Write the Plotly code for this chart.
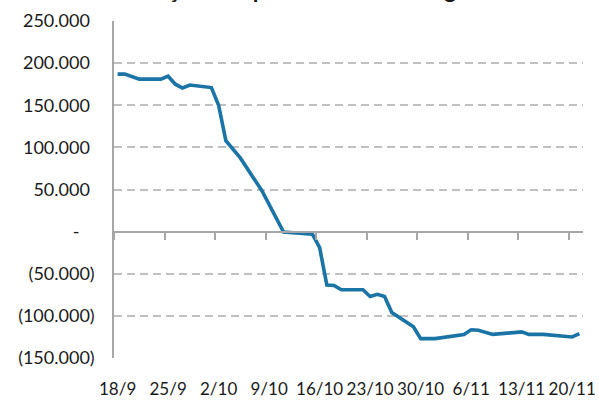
import plotly.graph_objects as go

# Data
dates = [
    "2017-09-18", "2017-09-19", "2017-09-21", "2017-09-24", "2017-09-25",
    "2017-09-26", "2017-09-27", "2017-09-28", "2017-10-01", "2017-10-02",
    "2017-10-03", "2017-10-05", "2017-10-08", "2017-10-11", "2017-10-15",
    "2017-10-16", "2017-10-17", "2017-10-18", "2017-10-19", "2017-10-22",
    "2017-10-23", "2017-10-24", "2017-10-25", "2017-10-26", "2017-10-29",
    "2017-10-30", "2017-11-01", "2017-11-05", "2017-11-06", "2017-11-07",
    "2017-11-09", "2017-11-13", "2017-11-14", "2017-11-16", "2017-11-20",
    "2017-11-21",
]
values = [
    187000, 187000, 181000, 181000, 184500,
    175000, 170500, 174000, 171000, 150000,
    108000, 87500, 48500, -500, -3000,
    -19000, -63500, -64000, -69000, -69000,
    -77000, -74500, -77000, -96000, -113000,
    -127000, -127000, -122000, -116500, -117000,
    -122000, -119000, -122000, -122000, -125000,
    -121000,
]

x_tick_dates = ["2017-09-18", "2017-09-25", "2017-10-02", "2017-10-09", "2017-10-16",
                "2017-10-23", "2017-10-30", "2017-11-06", "2017-11-13", "2017-11-20"]
x_tick_labels = ["18/9", "25/9", "2/10", "9/10", "16/10", "23/10", "30/10", "6/11", "13/11", "20/11"]
x_boundary_ticks = ["2017-09-17 12:00", "2017-09-24 12:00", "2017-10-01 12:00", "2017-10-08 12:00",
                    "2017-10-15 12:00", "2017-10-22 12:00", "2017-10-29 12:00", "2017-11-05 12:00",
                    "2017-11-12 12:00", "2017-11-19 12:00"]

y_tick_vals = [250000, 200000, 150000, 100000, 50000, 0, -50000, -100000, -150000]
hid = '<span style="color:rgba(0,0,0,0)">%s</span>'
y_tick_text = [
    "250.000" + hid % ")", "200.000" + hid % ")", "150.000" + hid % ")",
    "100.000" + hid % ")", "50.000" + hid % ")", "-" + hid % "0)",
    "(50.000)", "(100.000)", "(150.000)",
]

title_text = "Posição compradora dos estrangeiros"

x_range = ["2017-09-17 12:00", "2017-11-21 12:00"]
y_min, y_max = -150000, 250000

FONT = "Lato, 'Open Sans', sans-serif"
AXIS_GRAY = "#a6a6a6"

fig = go.Figure()
fig.add_trace(go.Scatter(
    x=dates, y=values, mode="lines",
    line=dict(color="#1a74a6", width=3.6),
    hoverinfo="skip", showlegend=False,
))
# invisible trace to activate xaxis2 (tick marks at zero)
fig.add_trace(go.Scatter(x=[dates[0]], y=[0], xaxis="x2", mode="markers",
                         marker=dict(opacity=0), hoverinfo="skip", showlegend=False))

fig.update_layout(
    width=599, height=401,
    margin=dict(l=114, r=16, t=21, b=43, autoexpand=False),
    paper_bgcolor="white", plot_bgcolor="white",
    font=dict(family=FONT, size=18, color="#1a1a1a"),
    showlegend=False,
    xaxis=dict(
        type="date", range=x_range,
        tickvals=x_tick_dates, ticktext=x_tick_labels,
        ticks="", showgrid=False, showline=False, zeroline=False,
        tickangle=0, automargin=False,
        ticklabelstandoff=19,
        tickfont=dict(family=FONT, size=17, color="#1a1a1a"),
    ),
    xaxis2=dict(
        type="date", range=x_range, overlaying="x", anchor="free",
        position=(0 - y_min) / (y_max - y_min),
        tickvals=x_boundary_ticks, showticklabels=False,
        ticks="outside", ticklen=8, tickwidth=1.5, tickcolor=AXIS_GRAY,
        showline=True, linecolor=AXIS_GRAY, linewidth=1.5,
        showgrid=False, zeroline=False, automargin=False,
    ),
    yaxis=dict(
        range=[y_min, y_max],
        tickvals=y_tick_vals, ticktext=y_tick_text,
        showgrid=True, gridcolor="#c0c0c0", gridwidth=1.5, griddash="8px,5px",
        showline=True, linecolor=AXIS_GRAY, linewidth=1.5,
        zeroline=False, ticks="", automargin=False,
        ticklabelstandoff=14,
        tickfont=dict(family=FONT, size=18, color="#1a1a1a"),
    ),
    annotations=[dict(
        text="<b>" + title_text + "</b>",
        xref="paper", yref="paper", x=0.43, y=1.0 + 16 / 337,
        xanchor="center", yanchor="bottom", showarrow=False,
        font=dict(family=FONT, size=23, color="#1a1a1a"),
    )],
)

fig.write_html("out.html", config={"displayModeBar": False},
               post_script="document.body.style.margin='0';")
